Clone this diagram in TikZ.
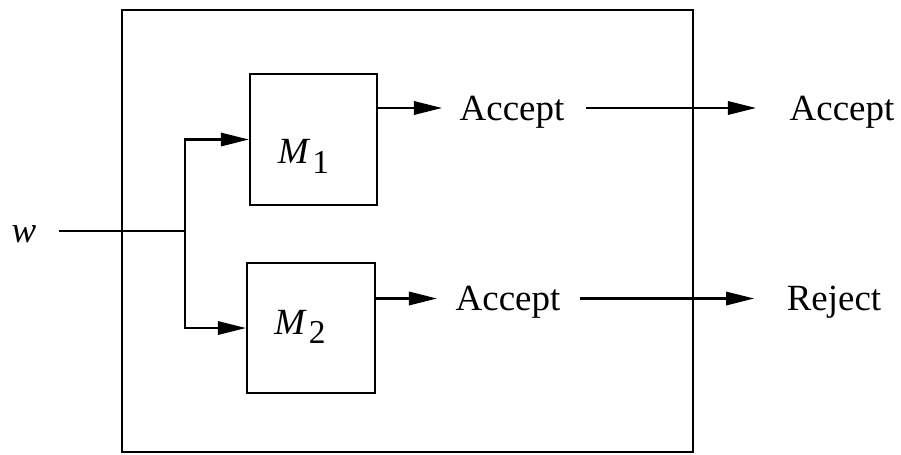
\documentclass[tikz,border=0pt]{standalone}
\usepackage{fontspec}
\setmainfont{Liberation Serif}
\usetikzlibrary{arrows.meta,calc}
\tikzset{
  machine/.style={draw, line width=0.6pt, inner sep=0pt},
  wire/.style={line width=0.6pt},
  flow/.style={line width=0.6pt, -{Triangle[length=8pt,width=3.8pt]}},
  lbl/.style={inner sep=0pt, text depth=0pt, font=\fontsize{10.5}{12}\selectfont},
}
\newcommand{\machname}[1]{\textit{M}\kern0.6pt\raisebox{-2.8pt}{\fontsize{9.5}{10}\selectfont #1}}

\begin{document}
\begin{tikzpicture}[x=0.01cm, y=-0.01cm]
		%%%%% START %%%%%
		\useasboundingbox (0, 0) rectangle (901, 454);
		\draw[line width=0.7pt] (122, 10) rectangle (693, 452);
		
		% the two machines
		\node[machine, minimum width=1.27cm, minimum height=1.31cm] (m1box) at (313.5, 139.5) {};
		\node[machine, minimum width=1.28cm, minimum height=1.30cm] (m2box) at (311, 328) {};
		\node[lbl] (m1txt) at ($(m1box.center)+(-10, 12)$) {\machname{1}};
		\node[lbl] (m2txt) at ($(m2box.center)+(-11, -6)$) {\machname{2}};
		
		% input
		\node[lbl] (win) at (24, 234) {\textit{w}};
		\coordinate (fork) at (185, 231);
		\draw[wire, shorten <=0.22cm] (win.east |- fork) -- (fork);
		\draw[flow] (fork) |- (m1box.west);
		\draw[flow] (fork) |- (m2box.west);
		
		% outputs of the machines
		\node[lbl] (acc1) at (512, 108) {Accept};
		\node[lbl] (acc2) at (508, 298.5) {Accept};
		\draw[flow, shorten >=0.17cm] (m1box.east |- acc1) -- (acc1.west);
		\draw[flow, shorten >=0.18cm] (m2box.east |- acc2) -- (acc2.west);
		
		% outputs of the whole box
		\node[lbl] (out1) at (842, 108) {Accept};
		\node[lbl] (out2) at (834, 298.5) {Reject};
		\draw[flow, shorten <=0.21cm, shorten >=0.33cm] (acc1.east) -- (out1.west);
		\draw[flow, shorten <=0.19cm, shorten >=0.32cm] (acc2.east) -- (out2.west);
		%%%%% END %%%%%
\end{tikzpicture}
\end{document}
